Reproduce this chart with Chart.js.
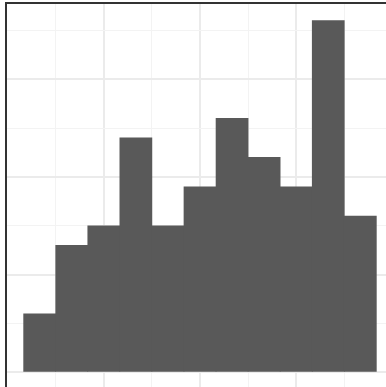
<!DOCTYPE html>
<html>
<head>
<meta charset="utf-8">
<script src="https://cdn.jsdelivr.net/npm/chart.js@4.4.1/dist/chart.umd.min.js"></script>
<style>
  html, body { margin: 0; padding: 0; background: #fff; overflow: hidden; }
  #clip { width: 386px; height: 387px; overflow: hidden; position: relative; }
  #wrap { width: 394px; height: 390px; position: absolute; left: 0; top: 0; }
</style>
</head>
<body>
<div id="clip"><div id="wrap"><canvas id="histChart"></canvas></div></div>
<script>
// --- Data ---
const binCenters = [0.5, 1.5, 2.5, 3.5, 4.5, 5.5, 6.5, 7.5, 8.5, 9.5, 10.5];
const counts = [6, 13, 15, 24, 15, 19, 26, 22, 19, 36, 16];

// gridline positions (major / minor)
const xMajorTicks = [2.5, 5.5, 8.5, 11.5];
const xMinorTicks = [1, 4, 7, 10];
const yMajorTicks = [0, 10, 20, 30];
const yMinorTicks = [5, 15, 25, 35];

// --- Helpers ---
function gridOptions(majors) {
    return {
        drawTicks: false,
        color: ctx => majors.includes(ctx.tick.value) ? '#EBEBEB' : '#F3F3F3',
        lineWidth: ctx => majors.includes(ctx.tick.value) ? 2 : 1
    };
}

function setTicks(values) {
    return scale => {
        scale.ticks = values.map(v => ({ value: v }));
    };
}

// Panel border like ggplot theme_bw
const panelBorder = {
    id: 'panelBorder',
    afterDraw(chart) {
        const { ctx, chartArea } = chart;
        ctx.save();
        ctx.strokeStyle = '#333333';
        ctx.lineWidth = 2;
        ctx.strokeRect(chartArea.left, chartArea.top, chartArea.right - chartArea.left, chartArea.bottom - chartArea.top);
        ctx.restore();
    }
};

// --- Chart ---
document.addEventListener('DOMContentLoaded', () => {
    const ctxHist = document.getElementById('histChart').getContext('2d');
    new Chart(ctxHist, {
        type: 'bar',
        data: {
            datasets: [{
                data: counts.map((c, i) => ({ x: binCenters[i], y: c })),
                backgroundColor: '#595959',
                borderWidth: 0,
                barPercentage: 1,
                categoryPercentage: 1
            }]
        },
        plugins: [panelBorder],
        options: {
            responsive: true,
            maintainAspectRatio: false,
            animation: false,
            layout: { padding: { left: 6, top: 3, right: 0, bottom: 0 } },
            plugins: {
                legend: { display: false },
                tooltip: { enabled: false }
            },
            scales: {
                x: {
                    type: 'linear',
                    min: -0.55,
                    max: 11.55,
                    offset: false,
                    ticks: { display: false },
                    border: { display: false },
                    grid: Object.assign({ offset: false }, gridOptions(xMajorTicks)),
                    afterBuildTicks: setTicks([...xMajorTicks, ...xMinorTicks])
                },
                y: {
                    min: -1.8,
                    max: 37.8,
                    ticks: { display: false },
                    border: { display: false },
                    grid: gridOptions(yMajorTicks),
                    afterBuildTicks: setTicks([...yMajorTicks, ...yMinorTicks])
                }
            }
        }
    });
});
</script>
</body>
</html>
